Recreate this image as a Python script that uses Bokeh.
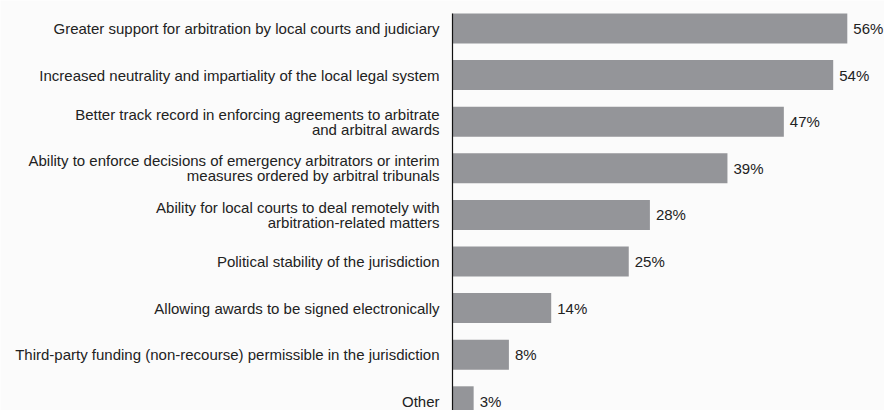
from bokeh.plotting import figure
from bokeh.models import Range1d, ColumnDataSource
from bokeh.core.properties import value
from bokeh.embed import file_html
from bokeh.resources import INLINE

categories = [
    "Greater support for arbitration by local courts and judiciary",
    "Increased neutrality and impartiality of the local legal system",
    "Better track record in enforcing agreements to arbitrate\nand arbitral awards",
    "Ability to enforce decisions of emergency arbitrators or interim\nmeasures ordered by arbitral tribunals",
    "Ability for local courts to deal remotely with\narbitration-related matters",
    "Political stability of the jurisdiction",
    "Allowing awards to be signed electronically",
    "Third-party funding (non-recourse) permissible in the jurisdiction",
    "Other",
]
values = [56, 54, 47, 39, 28, 25, 14, 8, 3]
value_labels = [f"{v}%" for v in values]

W, H = 884, 410
axis_px = 452
px_per_unit = 7.05
row_px = 46.6
first_center = 28
FONT = "Liberation Sans"

idx = list(range(len(categories)))
src = ColumnDataSource(dict(y=idx, v=values, zero=[0] * len(values),
                            cat=categories, lab=value_labels))

p = figure(width=W, height=H, output_backend="svg", toolbar_location=None,
           x_range=Range1d(-axis_px / px_per_unit, (W - axis_px) / px_per_unit),
           y_range=Range1d((H - first_center) / row_px, -first_center / row_px),
           min_border=0, min_border_left=0, min_border_right=0,
           min_border_top=0, min_border_bottom=0)
p.xaxis.visible = False
p.yaxis.visible = False
p.grid.visible = False
p.outline_line_color = None
p.background_fill_color = "#fbfbfb"
p.border_fill_color = "#fbfbfb"

bar_h = 30 / row_px
p.hbar(y="y", left="zero", right="v", height=bar_h, source=src,
       fill_color="#949599", line_color=None)

p.segment(x0=[0], y0=[-bar_h / 2], x1=[0], y1=[len(values) + 1],
          line_color="#111111", line_width=1.2)

p.text(x="zero", y="y", text="cat", source=src, x_offset=-13,
       text_align="right", text_baseline="middle",
       text_font=value(FONT), text_font_size="15px",
       text_color="#222222", text_line_height=0.88)

p.text(x="v", y="y", text="lab", source=src, x_offset=6,
       text_align="left", text_baseline="middle",
       text_font=value(FONT), text_font_size="15px",
       text_color="#222222")

open("out.html", "w").write(file_html(p, INLINE))
